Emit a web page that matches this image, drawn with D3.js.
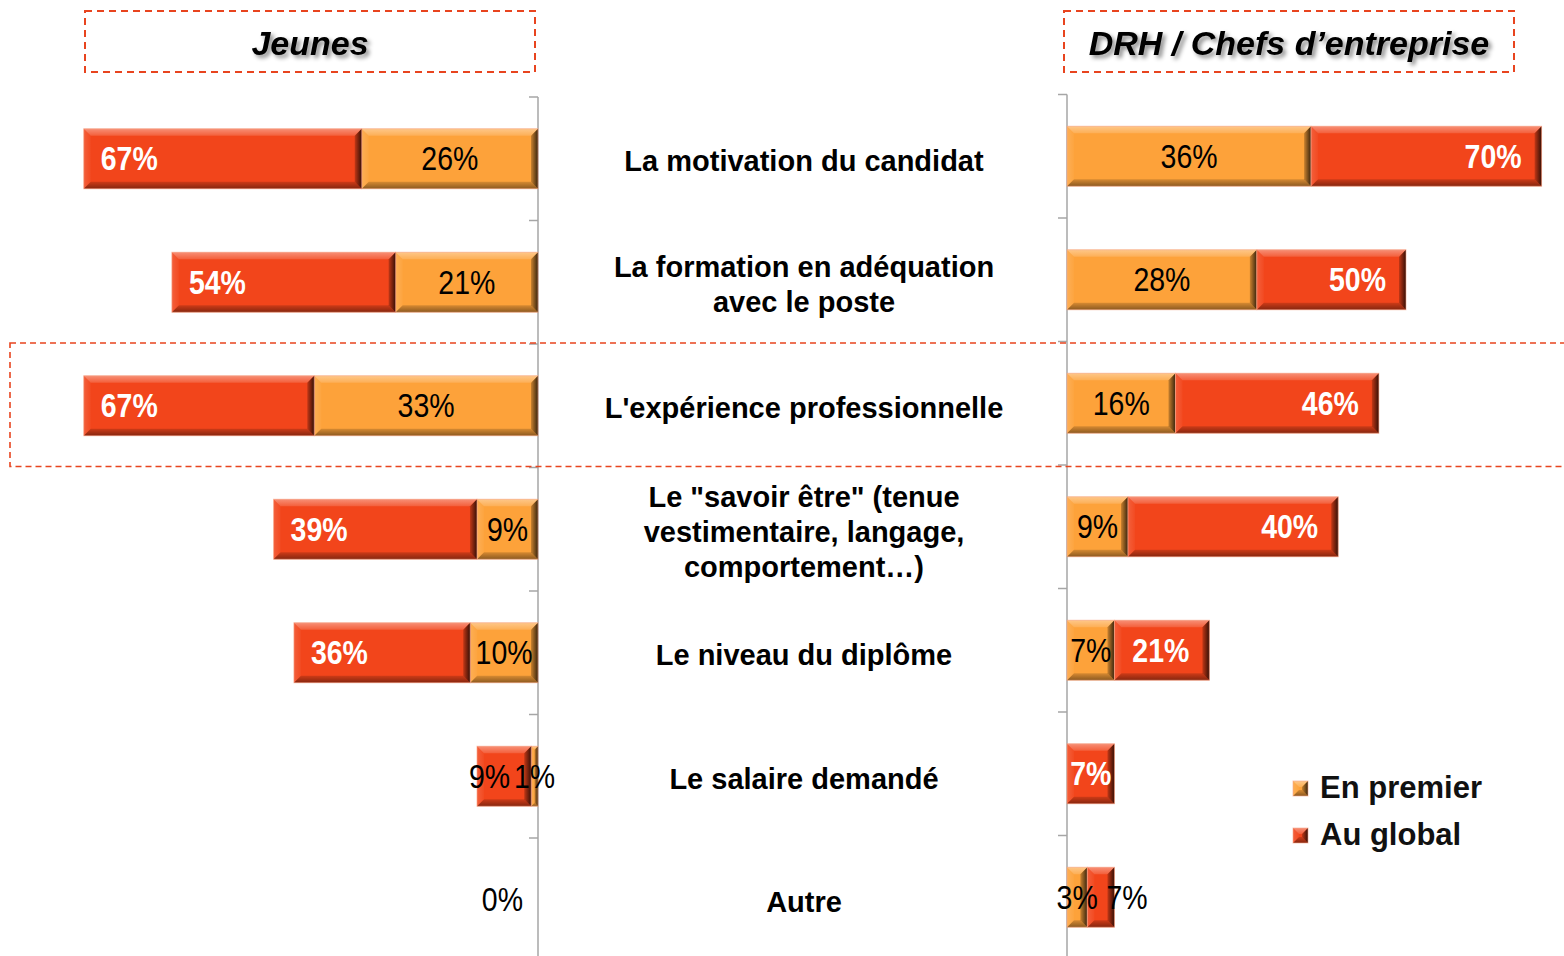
<!DOCTYPE html>
<html>
<head>
<meta charset="utf-8">
<script src="https://cdn.jsdelivr.net/npm/d3@7"></script>
<style>
  body { margin: 0; background: #fff; overflow: hidden; }
  svg { display: block; font-family: "Liberation Sans", Arial, sans-serif; }
</style>
</head>
<body>
<div id="chart"></div>
<script>
// categories (top to bottom)
const categories = [
  "La motivation du candidat",
  "La formation en adéquation|avec le poste",
  "L'expérience professionnelle",
  "Le \"savoir être\" (tenue|vestimentaire, langage,|comportement…)",
  "Le niveau du diplôme",
  "Le salaire demandé",
  "Autre"
];
const highlighted = "L'expérience professionnelle";

// Jeunes (left panel)
const jeunesPremier = [26, 21, 33, 9, 10, 1, 0];
const jeunesGlobal  = [67, 54, 67, 39, 36, 9, 0];
// DRH / Chefs d'entreprise (right panel)
const drhPremier = [36, 28, 16, 9, 7, 0, 3];
const drhGlobal  = [70, 50, 46, 40, 21, 7, 7];

const seriesNames = ["En premier", "Au global"];
const panelTitles = ["Jeunes", "DRH / Chefs d\u2019entreprise"];

const W = 1564, H = 956;
const RED = "#f2451b", ORANGE = "#fda23a";

const svg = d3.select("#chart").append("svg")
  .attr("width", W).attr("height", H);

const defs = svg.append("defs");
function grad(id, x2, y2, stops) {
  const g = defs.append("linearGradient").attr("id", id)
    .attr("x1", 0).attr("y1", 0).attr("x2", x2).attr("y2", y2);
  stops.forEach(s => g.append("stop").attr("offset", s[0])
    .attr("stop-color", s[1]).attr("stop-opacity", s[2]));
}
grad("bvTop", 0, 1, [[0, "#fff", 0.4], [1, "#fff", 0.14]]);
grad("bvBot", 0, 1, [[0, "#000", 0.15], [1, "#000", 0.45]]);
grad("bvRight", 1, 0, [[0, "#000", 0.2], [1, "#000", 0.78]]);
grad("bvLeft", 1, 0, [[0, "#fff", 0.14], [1, "#fff", 0.03]]);

const shadow = defs.append("filter").attr("id", "tshadow")
  .attr("x", "-10%").attr("y", "-30%").attr("width", "130%").attr("height", "170%");
shadow.append("feDropShadow").attr("dx", 3).attr("dy", 3)
  .attr("stdDeviation", 2).attr("flood-color", "#000").attr("flood-opacity", 0.45);

// scales
const pxPerUnit = 6.78;
const xLeft = d3.scaleLinear().domain([0, 100]).range([538, 538 - 100 * pxPerUnit]);
const xRight = d3.scaleLinear().domain([0, 100]).range([1067, 1067 + 100 * pxPerUnit]);

const yLeft = d3.scaleBand().domain(categories).range([97, 961.5])
  .paddingInner(0.514).paddingOuter(0.257);
const yRight = d3.scaleBand().domain(categories).range([94.5, 959])
  .paddingInner(0.514).paddingOuter(0.257);

// beveled 3D bar segment
function bevelBar(g, xa, xb, y0, h, color, b) {
  const x0 = Math.min(xa, xb), x1 = Math.max(xa, xb);
  const w = x1 - x0;
  if (w <= 0) return;
  const y1 = y0 + h;
  b = Math.min(b, w / 2, h / 2);
  const s = g.append("g");
  s.append("rect").attr("x", x0).attr("y", y0).attr("width", w).attr("height", h)
    .attr("fill", color);
  const poly = (pts, fill) => s.append("polygon")
    .attr("points", pts.map(p => p.join(",")).join(" ")).attr("fill", fill);
  poly([[x0, y0], [x1, y0], [x1 - b, y0 + b], [x0 + b, y0 + b]], "url(#bvTop)");
  poly([[x0, y1], [x1, y1], [x1 - b, y1 - b], [x0 + b, y1 - b]], "url(#bvBot)");
  poly([[x0, y0], [x0 + b, y0 + b], [x0 + b, y1 - b], [x0, y1]], "url(#bvLeft)");
  poly([[x1, y0], [x1 - b, y0 + b], [x1 - b, y1 - b], [x1, y1]], "url(#bvRight)");
  s.append("rect").attr("x", x0).attr("y", y0).attr("width", w).attr("height", h)
    .attr("fill", "none").attr("stroke", "#f7a88c").attr("stroke-width", 1)
    .attr("stroke-opacity", 0.6);
}

function pctLabel(g, text, fill) {
  return g.append("text")
    .attr("font-size", 28.5)
    .attr("fill", fill)
    .attr("font-weight", fill === "#fff" ? "bold" : "normal")
    .text(text);
}
function placeLabel(t, x, yc, anchor) {
  t.attr("text-anchor", anchor)
    .attr("transform", `translate(${x},${yc + 11.7}) scale(1,1.15)`);
}

function drawPanel(xs, ys, premier, global, side) {
  const g = svg.append("g");

  // axis line + ticks at band boundaries
  const ax = xs(0);
  const top = ys.range()[0];
  const step = ys.step();
  g.append("line").attr("x1", ax).attr("x2", ax)
    .attr("y1", top).attr("y2", ys.range()[1])
    .attr("stroke", "#a6a6a6").attr("stroke-width", 1.5);
  d3.range(categories.length + 1).forEach(i => {
    g.append("line").attr("x1", ax - 9).attr("x2", ax)
      .attr("y1", top + i * step).attr("y2", top + i * step)
      .attr("stroke", "#a6a6a6").attr("stroke-width", 1.5);
  });

  categories.forEach((c, i) => {
    const y0 = ys(c), h = ys.bandwidth(), yc = y0 + h / 2;
    const p = premier[i], t = global[i];
    bevelBar(g, xs(0), xs(p), y0, h, ORANGE, 7);
    bevelBar(g, xs(p), xs(t), y0, h, RED, 7);

    // premier label
    if (p > 0) {
      const lab = pctLabel(g, p + "%", "#000");
      placeLabel(lab, (xs(0) + xs(p)) / 2, yc, "middle");
    }
    // global label
    const white = !(t === 0 || (p > 0 && Math.abs(xs(t) - xs(p)) < 75));
    const lab = pctLabel(g, t + "%", white ? "#fff" : "#000");
    const tw = lab.node().getComputedTextLength();
    const segW = Math.abs(xs(t) - xs(p));
    if (t === 0) {
      placeLabel(lab, xs(0) - 15, yc, "end");
    } else if (!white) {
      placeLabel(lab, xs(t) - 8, yc, "start");
    } else if (segW < tw + 34) {
      placeLabel(lab, (xs(p) + xs(t)) / 2, yc, "middle");
    } else if (side < 0) {
      placeLabel(lab, xs(t) + 17, yc, "start");
    } else {
      placeLabel(lab, xs(t) - 20, yc, "end");
    }
  });
}

drawPanel(xLeft, yLeft, jeunesPremier, jeunesGlobal, -1);
drawPanel(xRight, yRight, drhPremier, drhGlobal, 1);

// category labels in the middle
const midX = (xLeft(0) + xRight(0)) / 2 + 1.5;
categories.forEach(c => {
  const lines = c.split("|");
  const yc = yLeft(c) + yLeft.bandwidth() / 2 + 2;
  const lh = 35;
  const t = svg.append("text").attr("text-anchor", "middle")
    .attr("font-size", 29).attr("font-weight", "bold").attr("fill", "#000");
  lines.forEach((l, j) => {
    t.append("tspan").attr("x", midX)
      .attr("y", yc + 10.4 + (j - (lines.length - 1) / 2) * lh)
      .text(l);
  });
});

// highlight box around the highlighted row
{
  const step = yLeft.step();
  const yTop = yLeft(highlighted) - step * yLeft.paddingInner() / 2 - 1;
  svg.append("rect").attr("x", 10).attr("y", yTop)
    .attr("width", W + 20).attr("height", step)
    .attr("fill", "none").attr("stroke", "#e8441f")
    .attr("stroke-width", 1.6).attr("stroke-dasharray", "6,4");
}

// panel titles in dashed boxes
const titleBoxes = [[85, 535], [1064, 1514]];
panelTitles.forEach((txt, i) => {
  const [bx0, bx1] = titleBoxes[i];
  svg.append("rect").attr("x", bx0).attr("y", 11)
    .attr("width", bx1 - bx0).attr("height", 61)
    .attr("fill", "none").attr("stroke", "#e8441f")
    .attr("stroke-width", 2).attr("stroke-dasharray", "7,5");
  svg.append("text").attr("x", (bx0 + bx1) / 2).attr("y", 55)
    .attr("text-anchor", "middle").attr("font-size", 34)
    .attr("font-weight", "bold").attr("font-style", "italic")
    .attr("filter", "url(#tshadow)")
    .text(txt);
});

// legend
const legend = svg.append("g");
const legendColors = [ORANGE, RED];
seriesNames.forEach((name, i) => {
  const ly = 781 + i * 47;
  bevelBar(legend, 1293, 1308, ly, 15, legendColors[i], 6);
  legend.append("text").attr("x", 1320).attr("y", ly + 17)
    .attr("font-size", 31).attr("font-weight", "bold").attr("fill", "#111")
    .text(name);
});
</script>
</body>
</html>
